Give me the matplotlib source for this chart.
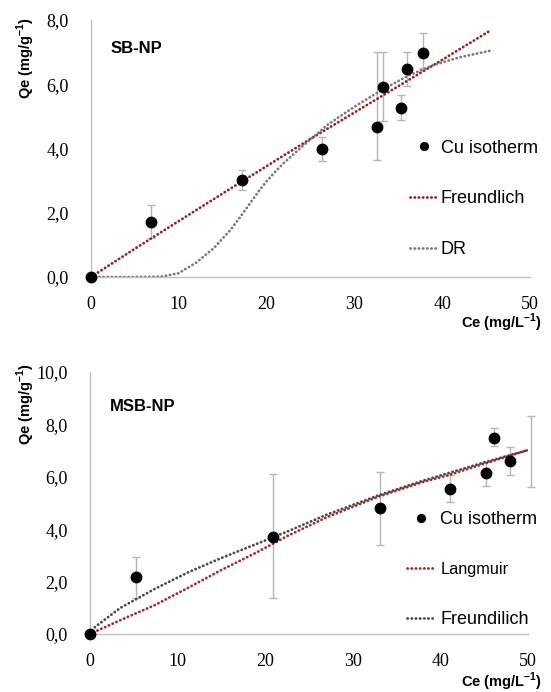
import matplotlib
matplotlib.use("Agg")
import matplotlib.pyplot as plt
from matplotlib.ticker import FuncFormatter

plt.rcParams['font.family'] = ['Liberation Sans', 'DejaVu Sans']
plt.rcParams['mathtext.fontset'] = 'custom'
plt.rcParams['mathtext.rm'] = 'Liberation Sans:bold'
plt.rcParams['mathtext.bf'] = 'Liberation Sans:bold'

# SB-NP data (Cu isotherm)
sb_ce = [0, 6.8, 17.2, 26.3, 32.6, 33.3, 35.3, 36.0, 37.8]
sb_qe = [0, 1.71, 3.02, 3.99, 4.67, 5.92, 5.27, 6.48, 6.98]
sb_err_lo = [0, 0.5, 0.32, 0.38, 1.03, 1.06, 0.38, 0.53, 0.48]
sb_err_hi = [0, 0.53, 0.31, 0.37, 2.33, 1.08, 0.4, 0.52, 0.62]

# SB-NP fitted curves
sb_fr_x = [0, 5, 10, 15, 20, 25, 30, 35, 40, 45.4]
sb_fr_y = [0, 0.88, 1.74, 2.6, 3.45, 4.3, 5.12, 5.94, 6.76, 7.66]
sb_dr_x = [0, 5, 8, 10, 12, 14, 16, 17, 18, 19, 20, 21, 22, 24, 27, 30, 33, 36, 39, 42, 45.4]
sb_dr_y = [0, 0, 0.01, 0.12, 0.45, 0.9, 1.5, 1.87, 2.25, 2.63, 2.98, 3.28, 3.56, 4.05, 4.75,
           5.3, 5.8, 6.25, 6.6, 6.84, 7.04]

# MSB-NP data (Cu isotherm)
msb_ce = [0, 5.3, 20.9, 33.1, 41.1, 45.2, 46.1, 48.0]
msb_qe = [0, 2.17, 3.7, 4.8, 5.53, 6.13, 7.5, 6.6]
msb_err_lo = [0, 0.8, 2.33, 1.4, 0.5, 0.47, 0.33, 0.53]
msb_err_hi = [0, 0.77, 2.4, 1.4, 0.54, 0.43, 0.36, 0.54]
# lone error bar at the end of the curves
msb_end_x = [50.4]
msb_end_y = [6.96]
msb_end_err = [1.36]

# MSB-NP fitted curves
msb_la_x = [0, 3.5, 7.4, 11.2, 15, 18.9, 22.6, 27, 33, 38, 41, 45, 50]
msb_la_y = [0, 0.53, 1.1, 1.76, 2.44, 3.09, 3.75, 4.45, 5.25, 5.8, 6.07, 6.5, 7.02]
msb_fr_x = [0, 0.6, 3.5, 7.4, 11.2, 15, 18.9, 22.6, 27, 33, 38, 41, 45, 50]
msb_fr_y = [0, 0.27, 1.0, 1.72, 2.35, 2.9, 3.42, 3.92, 4.55, 5.3, 5.85, 6.15, 6.55, 7.02]

comma = FuncFormatter(lambda v, p: ("%.1f" % v).replace(".", ","))
serif = ['Liberation Serif', 'DejaVu Serif']

fig = plt.figure(figsize=(5.51, 6.92), dpi=100)
ax1 = fig.add_axes([0.165, 0.5997, 0.797, 0.3714])
ax2 = fig.add_axes([0.163, 0.0838, 0.795, 0.3786])


def style(ax, ymax, ystep):
    ax.set_xlim(0, 50)
    ax.set_ylim(0, ymax)
    ax.set_xticks(range(0, 51, 10))
    ax.set_yticks([i * ystep for i in range(int(ymax / ystep) + 1)])
    ax.yaxis.set_major_formatter(comma)
    for s in ['top', 'right']:
        ax.spines[s].set_visible(False)
    for s in ['left', 'bottom']:
        ax.spines[s].set_color('#c0c0c0')
        ax.spines[s].set_linewidth(1.0)
    ax.tick_params(length=0)
    ax.tick_params(axis='y', pad=16)
    ax.tick_params(axis='x', pad=14)
    for lb in ax.get_xticklabels() + ax.get_yticklabels():
        lb.set_family(serif)
        lb.set_fontsize(13)


dot = (0, (0.1, 1.4))

# Top panel
ax1.errorbar(sb_ce, sb_qe, yerr=[sb_err_lo, sb_err_hi], fmt='none', ecolor='#b5b5b5',
             elinewidth=1, capsize=3, capthick=1, zorder=2)
ax1.plot(sb_fr_x, sb_fr_y, color='#9b1f1f', lw=2.0, ls=dot, dash_capstyle='round',
         label='Freundlich', zorder=3)
ax1.plot(sb_dr_x, sb_dr_y, color='#7a7a7a', lw=2.0, ls=dot, dash_capstyle='round',
         label='DR', zorder=3)
ax1.plot(sb_ce, sb_qe, 'o', color='black', ms=7.5, label='Cu isotherm', zorder=4, clip_on=False)
style(ax1, 8, 2)
h, l = ax1.get_legend_handles_labels()
leg1 = ax1.legend([h[2], h[0], h[1]], [l[2], l[0], l[1]], loc='upper left',
                  bbox_to_anchor=(0.727, 0.535), frameon=False, fontsize=13,
                  labelspacing=1.88, handlelength=1.5, handletextpad=0.2,
                  borderpad=0, borderaxespad=0, markerscale=0.75)
ax1.text(0.045, 0.89, 'SB-NP', transform=ax1.transAxes, fontsize=12, fontweight='bold',
         va='center')
fig.text(0.047, 0.916, 'Qe (mg/g$^{\\mathregular{-1}}$)', rotation=90, fontsize=10.5,
         fontweight='bold', ha='center', va='center')
fig.text(0.911, 0.533, 'Ce (mg/L$^{\\mathregular{-1}}$)', fontsize=10.5, fontweight='bold',
         ha='center', va='center')

# Bottom panel
ax2.errorbar(msb_ce, msb_qe, yerr=[msb_err_lo, msb_err_hi], fmt='none', ecolor='#b5b5b5',
             elinewidth=1, capsize=3, capthick=1, zorder=2)
ax2.errorbar(msb_end_x, msb_end_y, yerr=msb_end_err, fmt='none', ecolor='#b5b5b5',
             elinewidth=1, capsize=3, capthick=1, zorder=2, clip_on=False)
ax2.plot(msb_la_x, msb_la_y, color='#a52a2a', lw=2.0, ls=dot, dash_capstyle='round',
         label='Langmuir', zorder=3)
ax2.plot(msb_fr_x, msb_fr_y, color='#4a4a4a', lw=2.0, ls=dot, dash_capstyle='round',
         label='Freundilich', zorder=3)
ax2.plot(msb_ce, msb_qe, 'o', color='black', ms=7.5, label='Cu isotherm', zorder=4, clip_on=False)
style(ax2, 10, 2)
h, l = ax2.get_legend_handles_labels()
leg2 = ax2.legend([h[2], h[0], h[1]], [l[2], l[0], l[1]], loc='upper left',
                  bbox_to_anchor=(0.724, 0.468), frameon=False, fontsize=13,
                  labelspacing=1.85, handlelength=1.6, handletextpad=0.25,
                  borderpad=0, borderaxespad=0, markerscale=0.75)
leg2.get_texts()[1].set_fontsize(11.7)
ax2.text(0.045, 0.87, 'MSB-NP', transform=ax2.transAxes, fontsize=12, fontweight='bold',
         va='center')
fig.text(0.047, 0.416, 'Qe (mg/g$^{\\mathregular{-1}}$)', rotation=90, fontsize=10.5,
         fontweight='bold', ha='center', va='center')
fig.text(0.911, 0.015, 'Ce (mg/L$^{\\mathregular{-1}}$)', fontsize=10.5, fontweight='bold',
         ha='center', va='center')

fig.savefig('out.png', dpi=100)
